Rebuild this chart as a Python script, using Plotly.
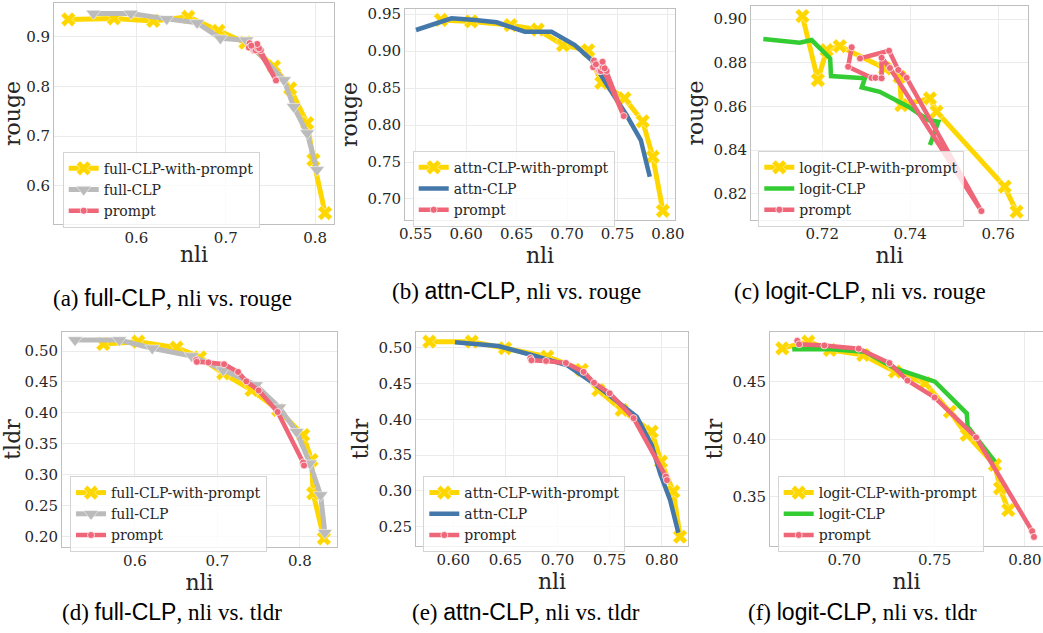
import plotly.graph_objects as go

# ---------------- data ----------------
# shared prompt baseline (rouge)
prompt_rouge_nli = [0.7267, 0.7259, 0.7312, 0.7321, 0.7335, 0.7335, 0.7354, 0.7562, 0.7392, 0.7373, 0.7352, 0.7286]
prompt_rouge = [0.8871, 0.8782, 0.8731, 0.8731, 0.8729, 0.8823, 0.8776, 0.8121, 0.8731, 0.8767, 0.8855, 0.8820]
# shared prompt baseline (tldr)
prompt_tldr_nli = [0.674, 0.675, 0.689, 0.708, 0.725, 0.735, 0.750, 0.773, 0.804, 0.805]
prompt_tldr = [0.4855, 0.4825, 0.4815, 0.4787, 0.4662, 0.4510, 0.4363, 0.4015, 0.3200, 0.3150]

# (a) full-CLP, rouge
a_fwp_nli = [0.524, 0.575, 0.619, 0.658, 0.692, 0.722, 0.754, 0.772, 0.791, 0.798, 0.811]
a_fwp_rouge = [0.935, 0.937, 0.932, 0.940, 0.912, 0.888, 0.840, 0.796, 0.726, 0.652, 0.545]
a_full_nli = [0.552, 0.594, 0.634, 0.668, 0.694, 0.723, 0.765, 0.776, 0.791, 0.802]
a_full_rouge = [0.947, 0.947, 0.936, 0.928, 0.897, 0.893, 0.813, 0.759, 0.706, 0.632]

# (b) attn-CLP, rouge
b_awp_nli = [0.575, 0.605, 0.644, 0.671, 0.696, 0.721, 0.734, 0.757, 0.775, 0.785, 0.795]
b_awp_rouge = [0.942, 0.940, 0.935, 0.929, 0.908, 0.901, 0.857, 0.836, 0.805, 0.757, 0.684]
b_attn_nli = [0.5503, 0.5856, 0.6087, 0.6302, 0.6582, 0.6846, 0.7077, 0.7242, 0.7407, 0.7589, 0.7731, 0.7820]
b_attn_rouge = [0.9284, 0.9442, 0.9419, 0.9388, 0.9261, 0.9261, 0.9081, 0.8878, 0.8518, 0.8135, 0.7797, 0.7301]

# (c) logit-CLP, rouge
c_lwp_nli = [0.7155, 0.7190, 0.7210, 0.7240, 0.7343, 0.7376, 0.7380, 0.7445, 0.7460, 0.7615, 0.7642]
c_lwp_rouge = [0.9014, 0.8721, 0.8858, 0.8876, 0.8774, 0.8736, 0.8606, 0.8637, 0.8576, 0.8233, 0.8118]
c_logit_nli = [0.7066, 0.7149, 0.7176, 0.7218, 0.7220, 0.7297, 0.7290, 0.7331, 0.7396, 0.7441, 0.7464, 0.7445]
c_logit_rouge = [0.8909, 0.8892, 0.8904, 0.8820, 0.8739, 0.8729, 0.8687, 0.8667, 0.8599, 0.8538, 0.8530, 0.8423]

# (d) full-CLP, tldr
d_fwp_nli = [0.5616, 0.6040, 0.6505, 0.6788, 0.7070, 0.7414, 0.7737, 0.8040, 0.8141, 0.8161, 0.8291]
d_fwp_tldr = [0.5113, 0.5150, 0.5053, 0.4898, 0.4640, 0.4370, 0.4047, 0.3643, 0.3239, 0.2701, 0.1974]
d_full_nli = [0.5273, 0.5810, 0.6210, 0.6687, 0.7070, 0.7467, 0.7749, 0.7960, 0.8121, 0.8251, 0.8303]
d_full_tldr = [0.5178, 0.5178, 0.5044, 0.4919, 0.4693, 0.4451, 0.4090, 0.3696, 0.3186, 0.2674, 0.2065]

# (e) attn-CLP, tldr
e_awp_nli = [0.5770, 0.6177, 0.6496, 0.6902, 0.7232, 0.7392, 0.7616, 0.7904, 0.7993, 0.8111, 0.8176]
e_awp_tldr = [0.5084, 0.5084, 0.4992, 0.4874, 0.4689, 0.4409, 0.4130, 0.3827, 0.3408, 0.2989, 0.2360]
e_attn_nli = [0.6016, 0.6432, 0.6752, 0.7088, 0.7392, 0.7760, 0.7904, 0.7984, 0.8080, 0.8159]
e_attn_tldr = [0.5075, 0.5023, 0.4898, 0.4758, 0.4455, 0.4036, 0.3641, 0.3246, 0.2873, 0.2416]

# (f) logit-CLP, tldr
f_lwp_nli = [0.6657, 0.6801, 0.6921, 0.7105, 0.7281, 0.7447, 0.7585, 0.7678, 0.7834, 0.7862, 0.7908]
f_lwp_tldr = [0.4790, 0.4848, 0.4776, 0.4732, 0.4587, 0.4486, 0.4239, 0.4037, 0.3776, 0.3573, 0.3384]
f_logit_nli = [0.6712, 0.6930, 0.7115, 0.7281, 0.7502, 0.7678, 0.7683, 0.7834]
f_logit_tldr = [0.4782, 0.4782, 0.4761, 0.4616, 0.4500, 0.4225, 0.4108, 0.3804]

captions = [
    ("(a) ", "full-CLP", ", nli vs. rouge"),
    ("(b) ", "attn-CLP", ", nli vs. rouge"),
    ("(c) ", "logit-CLP", ", nli vs. rouge"),
    ("(d) ", "full-CLP", ", nli vs. tldr"),
    ("(e) ", "attn-CLP", ", nli vs. tldr"),
    ("(f) ", "logit-CLP", ", nli vs. tldr"),
]

# ---------------- style ----------------
GOLD = "#FFD700"
GREY = "#BBBBBB"
PINK = "#EE6677"
BLUE = "#4477AA"
GREEN = "#33CC33"
SERIF = "DejaVu Serif"
TXT = "#262626"

W, H = 1043, 633

def px_x(a, b):
    return [a / W, b / W]

def px_y(top, bottom):
    return [1 - bottom / H, 1 - top / H]

panels = [
    dict(xd=px_x(54, 334), yd=px_y(3, 224), xr=[0.508, 0.821], yr=[0.523, 0.968],
         xt=[0.6, 0.7, 0.8], xf=".1f", yt=[0.6, 0.7, 0.8, 0.9], yf=".1f", ytitle="rouge",
         leg=(62.7, 151.7)),
    dict(xd=px_x(405, 675), yd=px_y(9, 220), xr=[0.5394, 0.807], yr=[0.6716, 0.9568],
         xt=[0.55, 0.60, 0.65, 0.70, 0.75, 0.80], xf=".2f", yt=[0.70, 0.75, 0.80, 0.85, 0.90, 0.95], yf=".2f",
         ytitle="rouge", leg=(412.7, 150.7)),
    dict(xd=px_x(751, 1028), yd=px_y(6, 220), xr=[0.7038, 0.7668], yr=[0.808, 0.906],
         xt=[0.72, 0.74, 0.76], xf=".2f", yt=[0.82, 0.84, 0.86, 0.88, 0.90], yf=".2f",
         ytitle="rouge", leg=(758.3, 150.7)),
    dict(xd=px_x(62, 337), yd=px_y(332, 547), xr=[0.5115, 0.845], yr=[0.1834, 0.5307],
         xt=[0.6, 0.7, 0.8], xf=".1f", yt=[0.20, 0.25, 0.30, 0.35, 0.40, 0.45, 0.50], yf=".2f",
         ytitle="tldr", leg=(70, 476)),
    dict(xd=px_x(416, 688), yd=px_y(332, 546), xr=[0.5642, 0.8252], yr=[0.223, 0.5219],
         xt=[0.60, 0.65, 0.70, 0.75, 0.80], xf=".2f", yt=[0.25, 0.30, 0.35, 0.40, 0.45, 0.50], yf=".2f",
         ytitle="tldr", leg=(423.3, 476)),
    dict(xd=px_x(770, 1043), yd=px_y(332, 546), xr=[0.6589, 0.810], yr=[0.3071, 0.4932],
         xt=[0.70, 0.75, 0.80], xf=".2f", yt=[0.35, 0.40, 0.45], yf=".2f",
         ytitle="tldr", leg=(777.7, 476)),
]

caption_pos = [(172, 298), (516, 291), (860, 291), (172, 612), (526, 612), (862, 612)]

series = [
    [("full-CLP-with-prompt", a_fwp_nli, a_fwp_rouge, GOLD, "x"),
     ("full-CLP", a_full_nli, a_full_rouge, GREY, "triangle-down"),
     ("prompt", prompt_rouge_nli, prompt_rouge, PINK, "circle")],
    [("attn-CLP-with-prompt", b_awp_nli, b_awp_rouge, GOLD, "x"),
     ("attn-CLP", b_attn_nli, b_attn_rouge, BLUE, None),
     ("prompt", prompt_rouge_nli, prompt_rouge, PINK, "circle")],
    [("logit-CLP-with-prompt", c_lwp_nli, c_lwp_rouge, GOLD, "x"),
     ("logit-CLP", c_logit_nli, c_logit_rouge, GREEN, None),
     ("prompt", prompt_rouge_nli, prompt_rouge, PINK, "circle")],
    [("full-CLP-with-prompt", d_fwp_nli, d_fwp_tldr, GOLD, "x"),
     ("full-CLP", d_full_nli, d_full_tldr, GREY, "triangle-down"),
     ("prompt", prompt_tldr_nli, prompt_tldr, PINK, "circle")],
    [("attn-CLP-with-prompt", e_awp_nli, e_awp_tldr, GOLD, "x"),
     ("attn-CLP", e_attn_nli, e_attn_tldr, BLUE, None),
     ("prompt", prompt_tldr_nli, prompt_tldr, PINK, "circle")],
    [("logit-CLP-with-prompt", f_lwp_nli, f_lwp_tldr, GOLD, "x"),
     ("logit-CLP", f_logit_nli, f_logit_tldr, GREEN, None),
     ("prompt", prompt_tldr_nli, prompt_tldr, PINK, "circle")],
]

fig = go.Figure()
layout = dict(width=W, height=H, margin=dict(l=0, r=0, t=0, b=0, pad=0, autoexpand=False),
              paper_bgcolor="white", plot_bgcolor="white", annotations=[])

for i, (p, ser) in enumerate(zip(panels, series)):
    n = i + 1
    xa = "x" if n == 1 else f"x{n}"
    ya = "y" if n == 1 else f"y{n}"
    leg = "legend" if n == 1 else f"legend{n}"
    for name, xs, ys, col, sym in ser:
        if sym is None:
            fig.add_trace(go.Scatter(x=xs, y=ys, name=name, mode="lines",
                                     line=dict(color=col, width=4.5),
                                     xaxis=xa, yaxis=ya, legend=leg))
        else:
            if sym == "circle":
                lw, ms, mlc = 4.5, 7, "rgba(255,255,255,0.7)"
            else:
                lw, ms, mlc = 5, 13, "rgba(255,255,255,0.5)"
            fig.add_trace(go.Scatter(x=xs, y=ys, name=name, mode="lines+markers",
                                     line=dict(color=col, width=lw),
                                     marker=dict(symbol=sym, size=ms, color=col,
                                                 line=dict(color=mlc, width=1)),
                                     xaxis=xa, yaxis=ya, legend=leg))
    axcommon = dict(showline=True, linecolor="#bfbfbf", linewidth=1, mirror=True,
                    showgrid=True, gridcolor="#ebebeb", gridwidth=1, zeroline=False,
                    ticks="", automargin=False, tickfont=dict(family=SERIF, size=15, color=TXT))
    layout["xaxis" if n == 1 else f"xaxis{n}"] = dict(
        axcommon, domain=p["xd"], range=p["xr"], tickvals=p["xt"], tickformat=p["xf"],
        anchor=ya, title=dict(text="nli", font=dict(family=SERIF, size=22, color=TXT), standoff=0))
    layout["yaxis" if n == 1 else f"yaxis{n}"] = dict(
        axcommon, domain=p["yd"], range=p["yr"], tickvals=p["yt"], tickformat=p["yf"],
        anchor=xa, title=dict(text=p["ytitle"], font=dict(family=SERIF, size=22, color=TXT), standoff=3))
    lx, ly = p["leg"]
    layout[leg] = dict(x=lx / W, y=1 - ly / H, xanchor="left", yanchor="top",
                       xref="paper", yref="paper",
                       bgcolor="rgba(255,255,255,0.8)", bordercolor="#d4d4d4", borderwidth=1,
                       font=dict(family=SERIF, size=14, color=TXT), tracegroupgap=0)
    pre, sans, post = captions[i]
    cx, cy = caption_pos[i]
    layout["annotations"].append(dict(
        x=cx / W, y=1 - cy / H, xref="paper", yref="paper", showarrow=False,
        xanchor="center", yanchor="middle",
        text=f"{pre}<span style=\"font-family:'Liberation Sans'\">{sans}</span>{post}",
        font=dict(family="Liberation Serif", size=23, color="black")))

fig.update_layout(**layout)
fig.write_html("out.html", config={"displayModeBar": False},
               post_script="document.body.style.margin='0';")
